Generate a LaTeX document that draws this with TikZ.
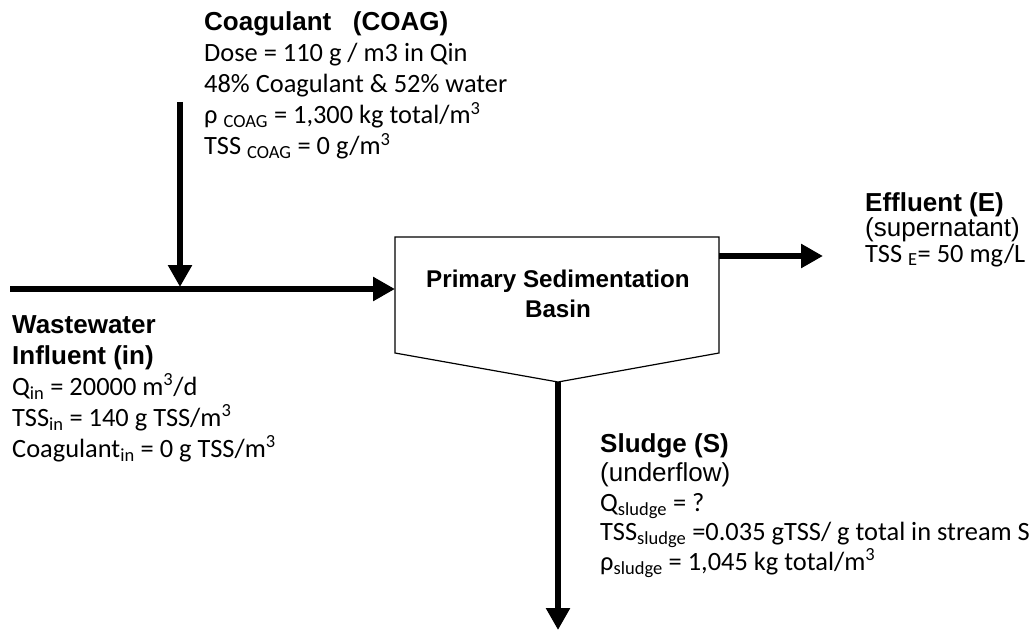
\documentclass[tikz,border=0pt]{standalone}
\usepackage{fontspec}
\setmainfont{Carlito}
\newfontfamily\arialfont{Liberation Sans}
\usetikzlibrary{arrows.meta,positioning}
\tikzset{>=latex}
\newcommand{\headtxt}[1]{{\arialfont\bfseries\fontsize{26}{31}\selectfont #1}}
\newcommand{\plaintxt}[1]{{\arialfont\fontsize{26}{31}\selectfont #1}}

\begin{document}
\begin{tikzpicture}[x=1pt, y=-1pt, font=\fontsize{26.4}{31}\selectfont]
		\tikzset{flow/.style={line width=6.5pt,-{Triangle[width=23pt,length=22pt]}},
			info/.style={anchor=base west,align=left,inner sep=0pt},
			basinline/.style={draw,line width=1.2pt,line join=miter}}
		
		\useasboundingbox (0,0) rectangle (1035,631);
		
		\coordinate (basinNW) at (395,237);
		\coordinate (basinNE) at (719,237);
		\coordinate (basinSE) at (719,353);
		\coordinate (basinSW) at (395,353);
		\coordinate (basintip) at (558,382);
		\draw[basinline] (basinNW) -- (basinNE) -- (basinSE) -- (basintip) -- (basinSW) -- cycle;
		\node[anchor=base,align=center,inner sep=0pt,font=\arialfont\bfseries\fontsize{24.2}{30}\selectfont] (basin) at (558,317) {Primary Sedimentation\\Basin};
		
		\coordinate (inlet) at (10,289);
		\coordinate (basinin) at (395,289);
		\coordinate (mixpoint) at (180,287);
		\coordinate (coagsrc) at (180,102);
		\coordinate (basinout) at (719,256);
		\coordinate (effout) at (823,256);
		\coordinate (sludgeout) at (558,630);
		
		\draw[flow] (inlet) -- (basinin);
		\draw[flow] (coagsrc) -- (mixpoint);
		\draw[flow] (basinout) -- (effout);
		\draw[flow] (basintip) -- (sludgeout);
		
		\node[info] (coaginfo) at (204,155) {\headtxt{Coagulant\ \ \ (COAG)}\\
			Dose = 110 g / m3 in Qin\\
			48\% Coagulant \& 52\% water\\
			ρ \textsubscript{COAG} = 1,300 kg total/m\textsuperscript{3}\\
			TSS \textsubscript{COAG} = 0 g/m\textsuperscript{3}};
		
		\node[info] (ininfo) at (12,457) {\headtxt{Wastewater}\\
			\headtxt{Influent (in)}\\
			Q\textsubscript{in} = 20000 m\textsuperscript{3}/d\\
			TSS\textsubscript{in} = 140 g TSS/m\textsuperscript{3}\\
			Coagulant\textsubscript{in} = 0 g TSS/m\textsuperscript{3}};
		
		\node[info,font=\fontsize{26.4}{25.5}\selectfont] (effinfo) at (865,262) {\headtxt{Effluent (E)}\\
			\plaintxt{(supernatant)}\\
			TSS \textsubscript{E}= 50 mg/L};
		
		\node[info,font=\fontsize{26.4}{29.5}\selectfont] (sludgeinfo) at (600,570) {\headtxt{Sludge (S)}\\
			\plaintxt{(underflow)}\\
			Q\textsubscript{sludge} = ?\\
			TSS\textsubscript{sludge} =0.035 gTSS/ g total in stream S\\
			ρ\textsubscript{sludge} = 1,045 kg total/m\textsuperscript{3}};
	\end{tikzpicture}
\end{document}
